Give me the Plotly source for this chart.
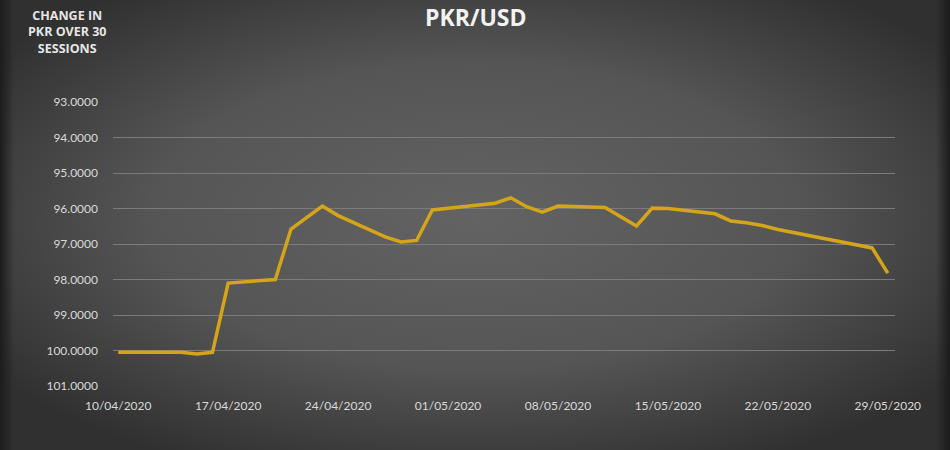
import base64
import plotly.graph_objects as go

dates = ["2020-04-10", "2020-04-13", "2020-04-14", "2020-04-15", "2020-04-16", "2020-04-17",
         "2020-04-20", "2020-04-21", "2020-04-22", "2020-04-23", "2020-04-24", "2020-04-27",
         "2020-04-28", "2020-04-29", "2020-04-30", "2020-05-04", "2020-05-05", "2020-05-06",
         "2020-05-07", "2020-05-08", "2020-05-11", "2020-05-13", "2020-05-14", "2020-05-15",
         "2020-05-18", "2020-05-19", "2020-05-20", "2020-05-21", "2020-05-22", "2020-05-27",
         "2020-05-28", "2020-05-29"]
pkr = [100.05, 100.05, 100.05, 100.10, 100.05, 98.10,
       98.00, 96.58, 96.24, 95.93, 96.20, 96.80,
       96.94, 96.90, 96.04, 95.85, 95.70, 95.95,
       96.10, 95.93, 95.97, 96.49, 95.99, 96.00,
       96.15, 96.35, 96.40, 96.48, 96.59, 97.03,
       97.11, 97.82]

title_text = "PKR/USD"
y_title = "CHANGE IN<br>PKR OVER 30<br>SESSIONS"

W, H = 950, 450
L, R, T, B = 113, 55, 102, 64
pw, ph = W - L - R, H - T - B

svg = f'''<svg xmlns="http://www.w3.org/2000/svg" width="{W}" height="{H}" viewBox="0 0 {W} {H}" preserveAspectRatio="none">
<defs><radialGradient id="g" cx="50%" cy="48%" r="62%">
<stop offset="0" stop-color="#636363"/><stop offset="0.55" stop-color="#555555"/><stop offset="1" stop-color="#303030"/>
</radialGradient>
<linearGradient id="l" x1="0" x2="1" y1="0" y2="0"><stop offset="0" stop-color="#1c1c1c"/><stop offset="1" stop-color="#1c1c1c" stop-opacity="0"/></linearGradient>
<linearGradient id="r" x1="1" x2="0" y1="0" y2="0"><stop offset="0" stop-color="#1c1c1c"/><stop offset="1" stop-color="#1c1c1c" stop-opacity="0"/></linearGradient>
</defs>
<rect width="{W}" height="{H}" fill="url(#g)"/>
<rect x="0" y="0" width="14" height="{H}" fill="url(#l)"/>
<rect x="{W-14}" y="0" width="14" height="{H}" fill="url(#r)"/>
</svg>'''
src = "data:image/svg+xml;base64," + base64.b64encode(svg.encode()).decode()

fig = go.Figure()
fig.add_trace(go.Scatter(x=dates, y=pkr, mode="lines",
                         line=dict(color="#D4A419", width=3.5), hoverinfo="x+y"))

fig.update_layout(
    width=W, height=H,
    margin=dict(l=L, r=R, t=T, b=B),
    paper_bgcolor="#3a3a3a", plot_bgcolor="rgba(0,0,0,0)",
    showlegend=False,
    font=dict(family="Lato, Open Sans, sans-serif", color="#d9d9d9", size=12),
    images=[dict(source=src, xref="paper", yref="paper",
                 x=-L / pw, y=1 + T / ph, sizex=W / pw, sizey=H / ph,
                 sizing="stretch", xanchor="left", yanchor="top", layer="below")],
    xaxis=dict(type="date", range=["2020-04-09 16:00", "2020-05-29 11:00"],
               tick0="2020-04-10", dtick=7 * 86400000, tickformat="%d/%m/%Y",
               showgrid=False, zeroline=False, showline=False, ticks="",
               ticklabelstandoff=11, tickfont=dict(size=12, color="#d9d9d9")),
    yaxis=dict(range=[101, 93], dtick=1, tickformat=".4f",
               showgrid=True, gridcolor="#7b7b7b", gridwidth=1, zeroline=False,
               showline=False, ticks="", ticklabelstandoff=14,
               tickfont=dict(size=12, color="#d9d9d9")),
    annotations=[
        dict(text=f"<b>{title_text}</b>", xref="paper", yref="paper",
             x=(475 - L) / pw, y=1 + T / ph, xanchor="center", yanchor="top",
             borderpad=0,
             showarrow=False, font=dict(size=23, color="#f2f2f2", family="Open Sans, sans-serif")),
        dict(text=f"<b>{y_title}</b>", xref="paper", yref="paper",
             x=(67 - L) / pw, y=1 + (T - 32) / ph, xanchor="center", yanchor="middle",
             showarrow=False, align="center",
             font=dict(size=12.5, color="#e6e6e6", family="Open Sans, sans-serif")),
    ],
)

fig.write_html("out.html", config={"displayModeBar": False},
               post_script="document.body.style.margin='0';document.body.style.overflow='hidden';")
